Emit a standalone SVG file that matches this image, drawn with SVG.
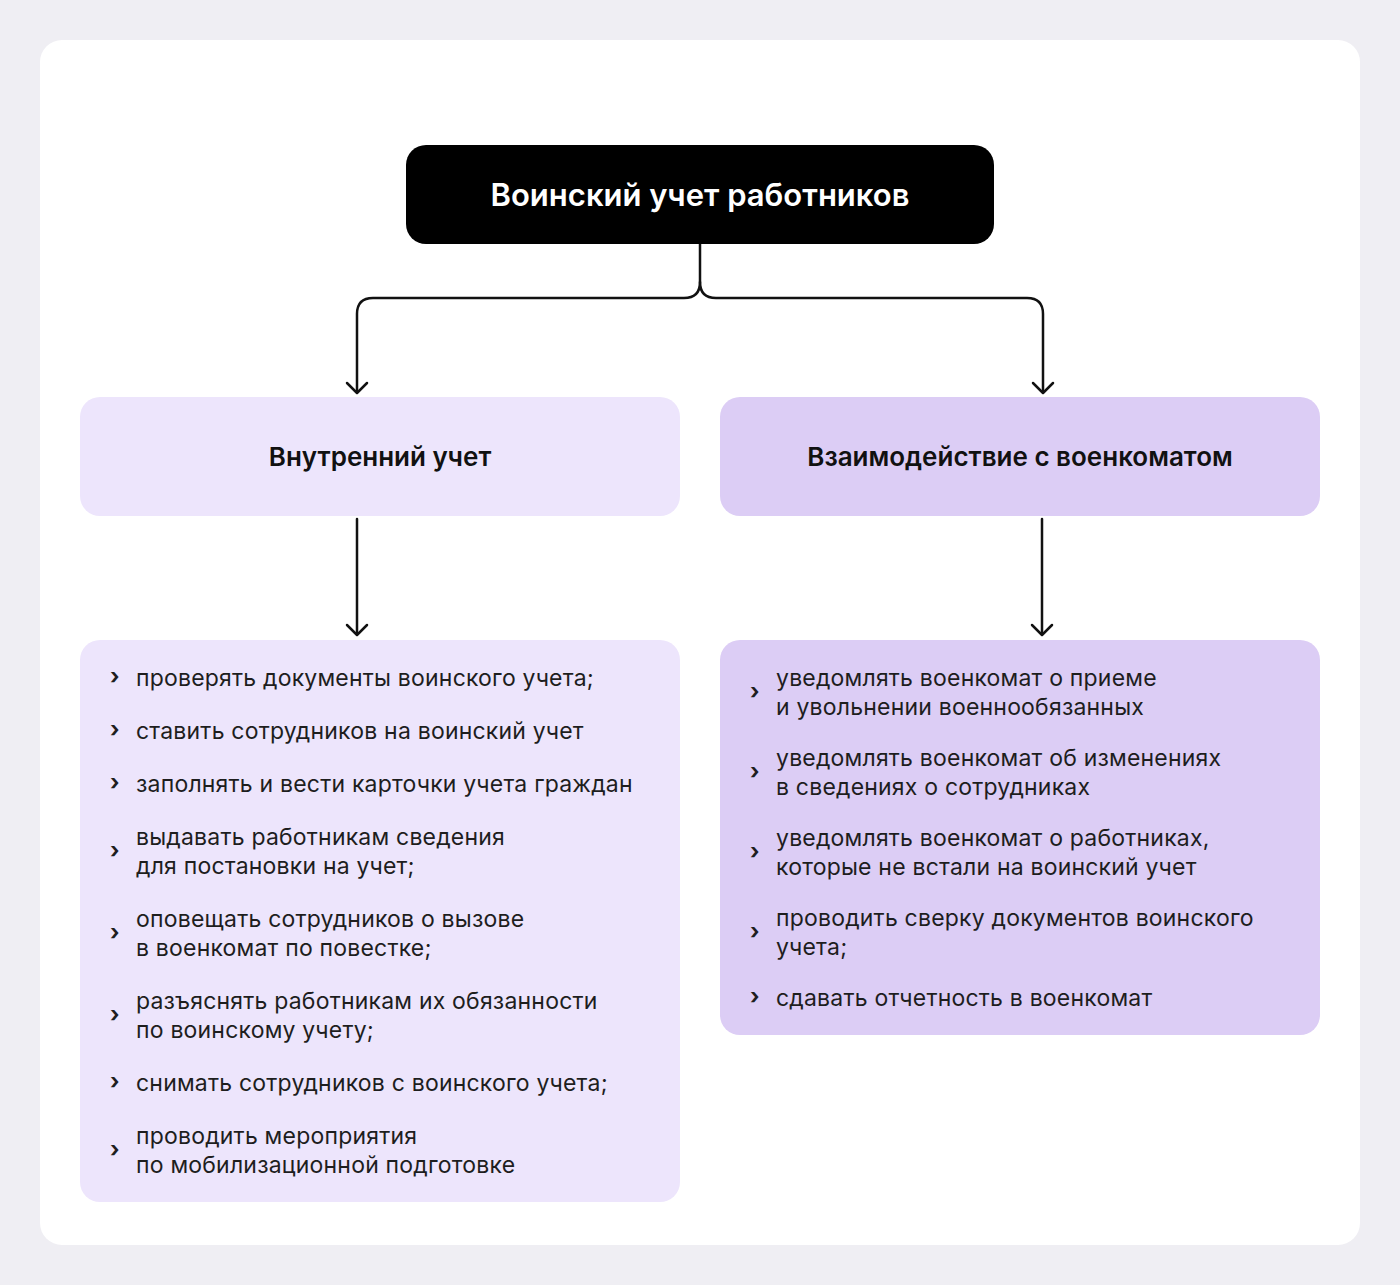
<svg xmlns="http://www.w3.org/2000/svg" width="1400" height="1285" viewBox="0 0 1400 1285">
<defs>
<style>
.t{font-family:Inter,"Noto Sans","Liberation Sans",sans-serif;font-size:23px;letter-spacing:0.2px;fill:#1e1e1e}
.b{font-weight:700;font-size:22px}
.h{font-family:Inter,"Noto Sans","Liberation Sans",sans-serif;font-size:26px;font-weight:600;fill:#111;text-anchor:middle}
.c{fill:none;stroke:#111;stroke-width:2.5;stroke-linecap:round;stroke-linejoin:round}
</style>
</defs>
<rect width="1400" height="1285" fill="#efeef3"/>
<rect x="40" y="40" width="1320" height="1205" rx="22" fill="#ffffff"/>
<g id="connectors">
<path class="c" d="M700 244 V282 Q700 298 684 298 H373 Q357 298 357 314 V392"/>
<path class="c" d="M700 282 Q700 298 716 298 H1027 Q1043 298 1043 314 V392"/>
<path class="c" d="M347 383 L357 393 L367 383"/>
<path class="c" d="M1033 383 L1043 393 L1053 383"/>
<path class="c" d="M357 519 V634"/>
<path class="c" d="M347 625 L357 635 L367 625"/>
<path class="c" d="M1042 519 V634"/>
<path class="c" d="M1032 625 L1042 635 L1052 625"/>
</g>
<g id="root">
<rect x="406" y="145" width="588" height="99" rx="20" fill="#000"/>
<text x="700" y="206" font-family="Inter,'Noto Sans','Liberation Sans',sans-serif" font-size="31" font-weight="600" fill="#fff" text-anchor="middle">Воинский учет работников</text>
</g>
<g id="internal">
<rect x="80" y="397" width="600" height="119" rx="20" fill="#ede5fc"/>
<text class="h" x="380" y="466">Внутренний учет</text>
</g>
<g id="military">
<rect x="720" y="397" width="600" height="119" rx="20" fill="#dccdf5"/>
<text class="h" x="1020" y="466">Взаимодействие с военкоматом</text>
</g>
<g id="internal-list">
<rect x="80" y="640" width="600" height="562" rx="20" fill="#ede5fc"/>
<g class="t">
<text class="b" x="110" y="684">›</text><text x="136" y="686">проверять документы воинского учета;</text>
<text class="b" x="110" y="737">›</text><text x="136" y="739">ставить сотрудников на воинский учет</text>
<text class="b" x="110" y="790">›</text><text x="136" y="792">заполнять и вести карточки учета граждан</text>
<text class="b" x="110" y="858">›</text><text x="136" y="845">выдавать работникам сведения</text><text x="136" y="874">для постановки на учет;</text>
<text class="b" x="110" y="940">›</text><text x="136" y="927">оповещать сотрудников о вызове</text><text x="136" y="956">в военкомат по повестке;</text>
<text class="b" x="110" y="1022">›</text><text x="136" y="1009">разъяснять работникам их обязанности</text><text x="136" y="1038">по воинскому учету;</text>
<text class="b" x="110" y="1089">›</text><text x="136" y="1091">снимать сотрудников с воинского учета;</text>
<text class="b" x="110" y="1157">›</text><text x="136" y="1144">проводить мероприятия</text><text x="136" y="1173">по мобилизационной подготовке</text>
</g>
</g>
<g id="military-list">
<rect x="720" y="640" width="600" height="395" rx="20" fill="#dccdf5"/>
<g class="t">
<text class="b" x="750" y="699">›</text><text x="776" y="686">уведомлять военкомат о приеме</text><text x="776" y="715">и увольнении военнообязанных</text>
<text class="b" x="750" y="779">›</text><text x="776" y="766">уведомлять военкомат об изменениях</text><text x="776" y="795">в сведениях о сотрудниках</text>
<text class="b" x="750" y="859">›</text><text x="776" y="846">уведомлять военкомат о работниках,</text><text x="776" y="875">которые не встали на воинский учет</text>
<text class="b" x="750" y="939">›</text><text x="776" y="926">проводить сверку документов воинского</text><text x="776" y="955">учета;</text>
<text class="b" x="750" y="1004">›</text><text x="776" y="1006">сдавать отчетность в военкомат</text>
</g>
</g>
</svg>
